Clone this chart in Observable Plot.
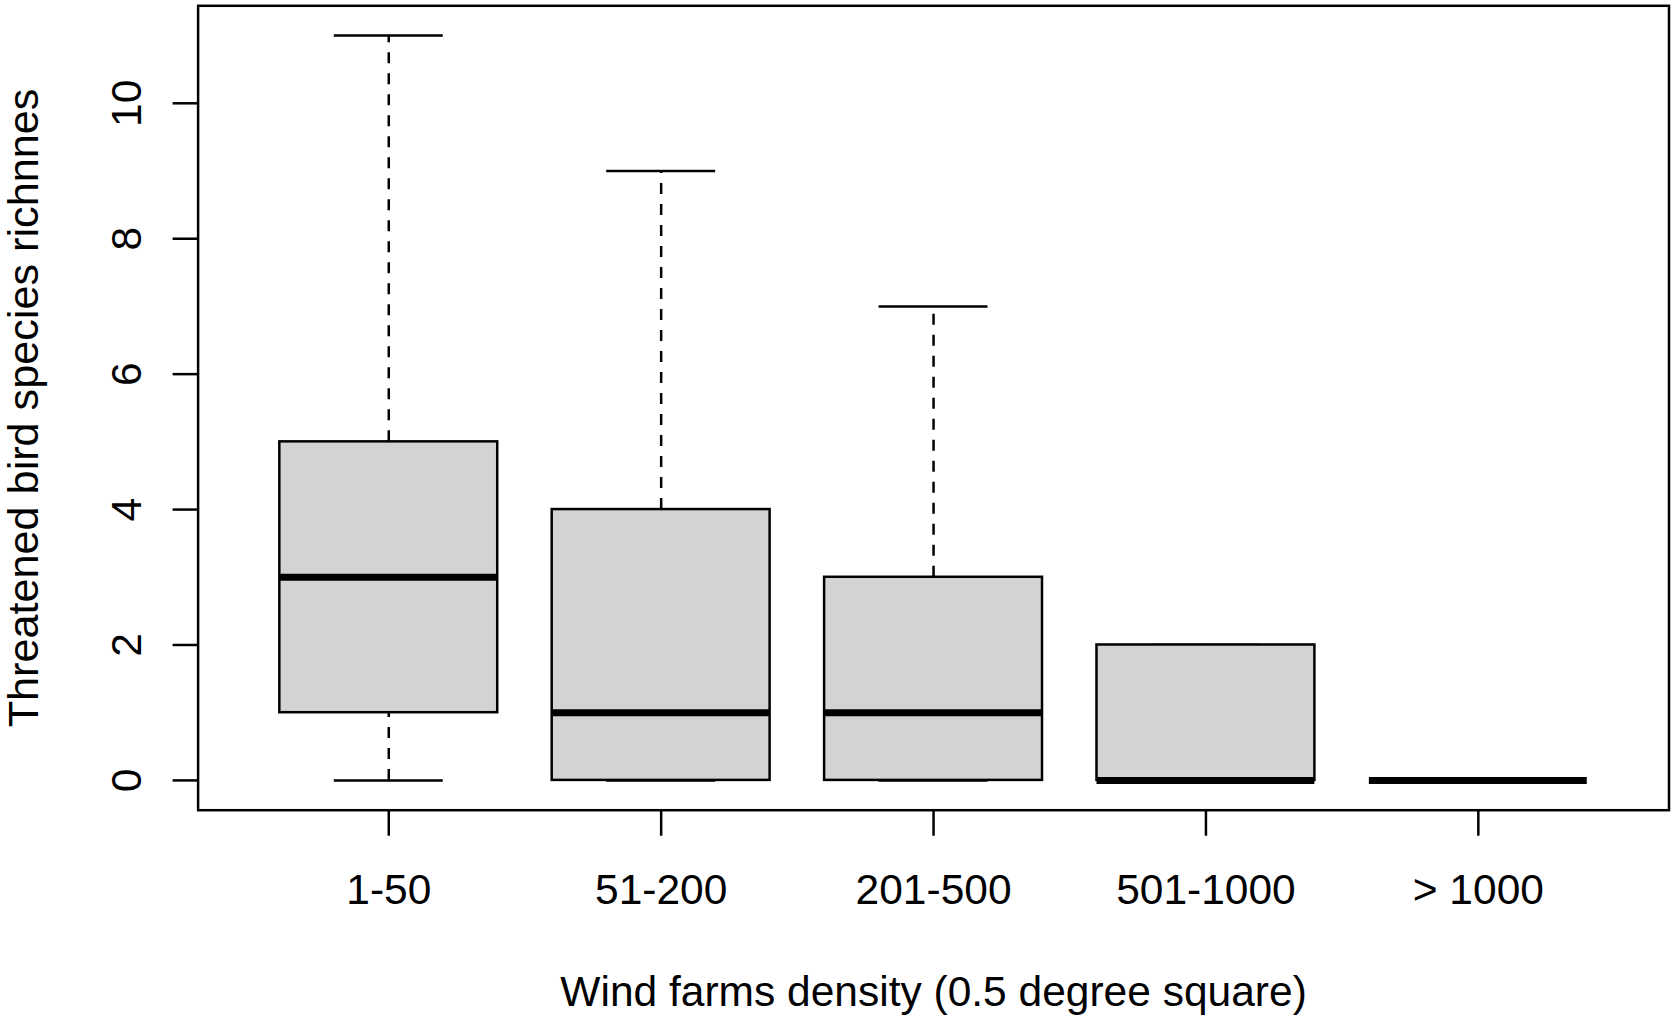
<!DOCTYPE html>
<html>
<head>
<meta charset="utf-8">
<script src="https://cdn.jsdelivr.net/npm/d3@7"></script>
<script src="https://cdn.jsdelivr.net/npm/@observablehq/plot@0.6"></script>
<style>
  html, body { margin: 0; padding: 0; background: #fff; }
  #chart svg { display: block; }
</style>
</head>
<body>
<div id="chart"></div>
<script>
// Data
const categories = ["1-50", "51-200", "201-500", "501-1000", "> 1000"];
const lowerWhisker = [0, 0, 0, 0, 0];
const q1 = [1, 0, 0, 0, 0];
const median = [3, 1, 1, 0, 0];
const q3 = [5, 4, 3, 2, 0];
const upperWhisker = [11, 9, 7, 2, 0];
const yTicks = [0, 2, 4, 6, 8, 10];
const xLabel = "Wind farms density (0.5 degree square)";
const yLabel = "Threatened bird species richnnes";

const rows = categories.map((c, i) => ({
  cat: c, i: i + 1,
  lo: lowerWhisker[i], q1: q1[i], med: median[i], q3: q3[i], hi: upperWhisker[i]
}));

const font = "Liberation Sans, Arial, sans-serif";
const fs = 42.5;

const chart = Plot.plot({
  width: 1675,
  height: 1018,
  marginLeft: 197.6,
  marginRight: 6.5,
  marginTop: 5.3,
  marginBottom: 208.3,
  style: { fontFamily: font, background: "#fff", color: "#000" },
  x: { type: "linear", domain: [0.3, 5.7], axis: null },
  y: { domain: [-0.44, 11.44], axis: null },
  marks: [
    // whiskers (dashed)
    Plot.ruleX(rows, { x: "i", y1: "q3", y2: "hi", stroke: "#000", strokeWidth: 2.5, strokeDasharray: "11,10" }),
    Plot.ruleX(rows, { x: "i", y1: "lo", y2: "q1", stroke: "#000", strokeWidth: 2.5, strokeDasharray: "11,10" }),
    // staples
    Plot.ruleY(rows, { y: "hi", x1: d => d.i - 0.2, x2: d => d.i + 0.2, stroke: "#000", strokeWidth: 2.5 }),
    Plot.ruleY(rows, { y: "lo", x1: d => d.i - 0.2, x2: d => d.i + 0.2, stroke: "#000", strokeWidth: 2.5 }),
    // boxes
    Plot.rect(rows, { x1: d => d.i - 0.4, x2: d => d.i + 0.4, y1: "q1", y2: "q3", fill: "#d3d3d3", stroke: "#000", strokeWidth: 2.5 }),
    // medians
    Plot.ruleY(rows, { y: "med", x1: d => d.i - 0.4, x2: d => d.i + 0.4, stroke: "#000", strokeWidth: 7 }),
    // frame
    Plot.frame({ stroke: "#000", strokeWidth: 2.5 }),
    // y axis ticks
    Plot.axisY(yTicks, { anchor: "left", tickSize: 25, strokeWidth: 2.5, stroke: "#000", tickFormat: () => "", label: null }),
    // y tick labels (rotated, as in R)
    Plot.text(yTicks, { y: d => d, text: d => String(d), frameAnchor: "left", dx: -71, rotate: -90, lineAnchor: "middle", textAnchor: "middle", fontSize: fs, fill: "#000" }),
    // x axis ticks
    Plot.axisX(rows.map(d => d.i), { anchor: "bottom", tickSize: 26, strokeWidth: 2.5, stroke: "#000", tickFormat: () => "", label: null }),
    // x tick labels
    Plot.text(rows, { x: "i", text: "cat", frameAnchor: "bottom", dy: 80, lineAnchor: "middle", textAnchor: "middle", fontSize: fs, fill: "#000" }),
    // axis titles
    Plot.text([xLabel], { text: d => d, frameAnchor: "bottom", dy: 182, lineAnchor: "middle", textAnchor: "middle", fontSize: fs, fill: "#000" }),
    Plot.text([yLabel], { text: d => d, frameAnchor: "left", dx: -174, rotate: -90, lineAnchor: "middle", textAnchor: "middle", fontSize: 43.2, fill: "#000" })
  ]
});

document.getElementById("chart").appendChild(chart);
</script>
</body>
</html>
